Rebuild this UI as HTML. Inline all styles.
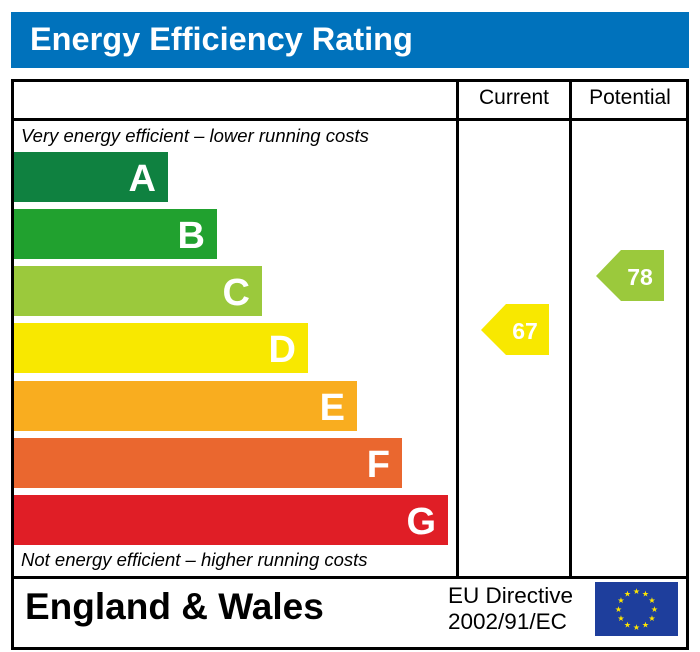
<!DOCTYPE html>
<html><head><style>
body{margin:0;width:700px;height:652px;background:#fff;position:relative;font-family:"Liberation Sans",sans-serif;overflow:hidden}
div{position:absolute;box-sizing:border-box;white-space:nowrap}
.bar{left:14px;height:50px;color:#fff;font-weight:bold;font-size:38px;text-align:right;padding-right:12px;line-height:54px}
.l{background:#000}
</style></head><body>
<div style="left:11px;top:12px;width:678px;height:56px;background:#0072bc;color:#fff;font-weight:bold;font-size:32.5px;line-height:54px;padding-left:19px">Energy Efficiency Rating</div>
<div style="left:11px;top:79px;width:678px;height:571px;border:3px solid #000"></div>
<div class="l" style="left:11px;top:118px;width:678px;height:3px"></div>
<div class="l" style="left:11px;top:576px;width:678px;height:3px"></div>
<div class="l" style="left:456px;top:79px;width:3px;height:499px"></div>
<div class="l" style="left:569px;top:79px;width:3px;height:499px"></div>
<div style="left:459px;top:86px;width:110px;text-align:center;font-size:21px">Current</div>
<div style="left:572px;top:86px;width:116px;text-align:center;font-size:21px">Potential</div>
<div style="left:21px;top:125px;font-size:18.5px;font-style:italic">Very energy efficient – lower running costs</div>
<div style="left:21px;top:549px;font-size:18.5px;font-style:italic">Not energy efficient – higher running costs</div>
<div class="bar" style="top:152px;width:154px;background:#0f8140">A</div>
<div class="bar" style="top:209px;width:203px;background:#21a12f">B</div>
<div class="bar" style="top:266px;width:248px;background:#9bc93c">C</div>
<div class="bar" style="top:323px;width:294px;background:#f8e800">D</div>
<div class="bar" style="top:381px;width:343px;background:#f9ad1f">E</div>
<div class="bar" style="top:438px;width:388px;background:#ea672f">F</div>
<div class="bar" style="top:495px;width:434px;background:#e01e26">G</div>
<svg style="position:absolute;left:0;top:0" width="700" height="652">
<polygon points="481,330 506,304 549,304 549,355 506,355" fill="#f8e800"/>
<text x="525" y="339" fill="#fff" font-family="Liberation Sans" font-weight="bold" font-size="23" text-anchor="middle">67</text>
<polygon points="596,276 621,250 664,250 664,301 621,301" fill="#9bc93c"/>
<text x="640" y="285" fill="#fff" font-family="Liberation Sans" font-weight="bold" font-size="23" text-anchor="middle">78</text>
<rect x="595" y="582" width="83" height="54" fill="#1e3e9c"/>
<g fill="#ffe600" font-size="8" text-anchor="middle" font-family="DejaVu Sans">
<text x="636.5" y="594">★</text><text x="645.5" y="596.5">★</text><text x="652" y="603">★</text><text x="654.5" y="612">★</text><text x="652" y="621">★</text><text x="645.5" y="627.5">★</text><text x="636.5" y="630">★</text><text x="627.5" y="627.5">★</text><text x="621" y="621">★</text><text x="618.5" y="612">★</text><text x="621" y="603">★</text><text x="627.5" y="596.5">★</text>
</g></svg>
<div style="left:25px;top:586px;font-size:37px;font-weight:bold">England &amp; Wales</div>
<div style="left:448px;top:583px;font-size:22.5px;line-height:26px">EU Directive<br>2002/91/EC</div>
</body></html>
